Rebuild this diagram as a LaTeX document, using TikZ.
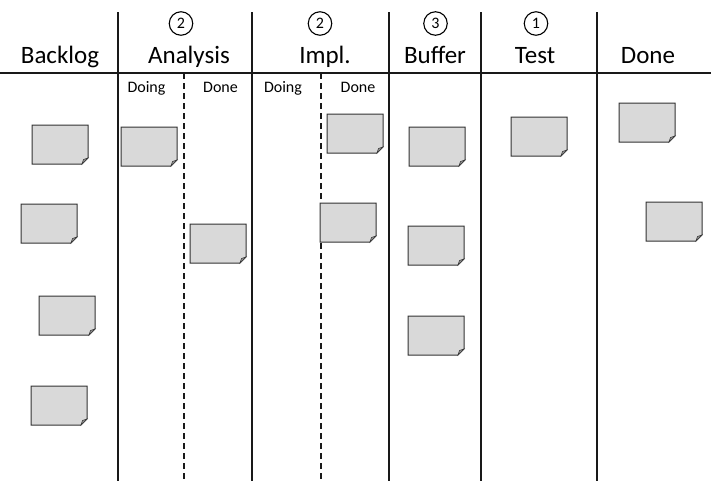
\documentclass[tikz,border=0pt]{standalone}
\usepackage{fontspec}
\setmainfont{Carlito}
\tikzset{
  board/.style={line width=2.2pt, black!90},
  sublane/.style={line width=1.3pt, black!90, dash pattern=on 6pt off 4pt},
  head/.style={anchor=base, inner sep=0pt, font=\fontsize{25}{28}\selectfont},
  subhead/.style={anchor=base, inner sep=0pt, font=\fontsize{16}{18}\selectfont},
  wip/.style={draw, circle, line width=1.1pt, minimum size=23.5pt, inner sep=0pt, font=\fontsize{16}{18}\selectfont},
  notebox/.style={anchor=north west, minimum width=56pt, minimum height=39pt, inner sep=0pt, outer sep=0pt},
  notefill/.style={fill=black!15, draw=black!80, line width=1pt, line join=miter},
  flapfill/.style={fill=black!40, draw=black!80, line width=0.6pt},
}
\newcommand\kbnote[3]{%
  \node[notebox] (#1) at (#2,#3) {};
  \filldraw[notefill] (#1.north west) -- (#1.north east) -- ([yshift=6pt]#1.south east)
     -- ([xshift=-6pt]#1.south east) -- (#1.south west) -- cycle;
  \filldraw[flapfill] ([yshift=6pt]#1.south east) -- ([xshift=-6pt]#1.south east)
     -- ([xshift=-4.5pt,yshift=4.5pt]#1.south east) -- cycle;
}
\begin{document}
\begin{tikzpicture}[x=1pt,y=-1pt]
\useasboundingbox (0,0) rectangle (711,483);
% board lines
\draw[board] (0,73) -- (711,73);
\foreach \lx in {118,252,389,481,597} \draw[board] (\lx,12) -- (\lx,481);
\draw[sublane] (184,73) -- (184,481);
\draw[sublane] (321,73) -- (321,481);
% headers
\node[head] (hback) at (60,63) {Backlog};
\node[head] (hana) at (189,63) {Analysis};
\node[head] (himp) at (325,63) {Impl.};
\node[head] (hbuf) at (435,63) {Buffer};
\node[head] (htest) at (535,63) {Test};
\node[head] (hdone) at (648,63) {Done};
% WIP limits
\node[wip] (wana) at (181,23.5) {2};
\node[wip] (wimp) at (320,23.5) {2};
\node[wip] (wbuf) at (435.5,23.5) {3};
\node[wip] (wtest) at (536,23.5) {1};
% sub-columns
\node[subhead] (adoing) at (146.5,92) {Doing};
\node[subhead] (adone) at (220.5,92) {Done};
\node[subhead] (idoing) at (283,92) {Doing};
\node[subhead] (idone) at (358,92) {Done};
% sticky notes
\kbnote{b1}{32}{125}
\kbnote{b2}{21}{204}
\kbnote{b3}{39}{296}
\kbnote{b4}{31}{386}
\kbnote{a1}{121}{127}
\kbnote{a2}{190}{224}
\kbnote{i1}{327}{114}
\kbnote{i2}{320}{203}
\kbnote{u1}{409}{127}
\kbnote{u2}{408}{226}
\kbnote{u3}{408}{316}
\kbnote{t1}{511}{117}
\kbnote{d1}{619}{103}
\kbnote{d2}{646}{202}
\end{tikzpicture}
\end{document}
